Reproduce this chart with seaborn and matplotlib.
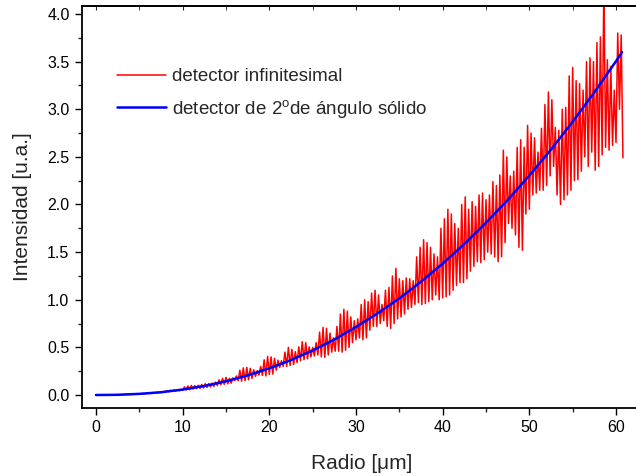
import numpy as np
import pandas as pd
import matplotlib
matplotlib.use("Agg")
import matplotlib.pyplot as plt
from matplotlib.ticker import MultipleLocator
import seaborn as sns

# ---------------- data ----------------
# smooth curve: detector with 2 degree solid angle
radio_blue = [0, 2.5, 5, 7.5, 10, 12.5, 15, 17.5, 20, 22.5, 25, 27.5, 30,
              32.5, 35, 37.5, 40, 42.5, 45, 47.5, 50, 52.5, 55, 57.5, 60, 60.7]
inten_blue = [0.000, 0.002, 0.012, 0.029, 0.057, 0.095, 0.144, 0.206, 0.280,
              0.367, 0.468, 0.582, 0.715, 0.858, 1.014, 1.189, 1.379, 1.585,
              1.808, 2.047, 2.304, 2.577, 2.869, 3.178, 3.504, 3.600]

# oscillating curve: infinitesimal detector, sampled every 0.2 um from 0 to 60.8
radio_red_start = 0.0
radio_red_step = 0.2
inten_red = [
    0.000, 0.001, 0.000, 0.001, 0.000, 0.001, 0.001, 0.002, 0.001, 0.002,
    0.002, 0.003, 0.002, 0.004, 0.003, 0.005, 0.004, 0.006, 0.005, 0.007,
    0.006, 0.009, 0.007, 0.011, 0.009, 0.013, 0.010, 0.015, 0.012, 0.018,
    0.014, 0.021, 0.016, 0.024, 0.019, 0.028, 0.022, 0.032, 0.025, 0.036,
    0.032, 0.046, 0.035, 0.050, 0.038, 0.053, 0.041, 0.056, 0.044, 0.058,
    0.048, 0.085, 0.052, 0.095, 0.056, 0.100, 0.062, 0.098, 0.066, 0.102,
    0.070, 0.110, 0.074, 0.118, 0.080, 0.120, 0.085, 0.125, 0.090, 0.135,
    0.100, 0.160, 0.108, 0.175, 0.112, 0.185, 0.118, 0.175, 0.125, 0.180,
    0.150, 0.200, 0.150, 0.260, 0.145, 0.285, 0.150, 0.290, 0.160, 0.280,
    0.175, 0.265, 0.195, 0.255, 0.210, 0.300, 0.205, 0.370, 0.200, 0.405,
    0.215, 0.400, 0.220, 0.385, 0.260, 0.365, 0.290, 0.360, 0.300, 0.450,
    0.300, 0.500, 0.310, 0.480, 0.320, 0.455, 0.340, 0.505, 0.360, 0.560,
    0.370, 0.550, 0.380, 0.505, 0.400, 0.500, 0.410, 0.550, 0.420, 0.660,
    0.400, 0.710, 0.395, 0.700, 0.420, 0.650, 0.450, 0.600, 0.460, 0.720,
    0.460, 0.850, 0.450, 0.900, 0.470, 0.880, 0.500, 0.820, 0.550, 0.780,
    0.580, 0.800, 0.600, 0.950, 0.580, 1.000, 0.600, 0.980, 0.680, 1.070,
    0.720, 1.100, 0.720, 1.050, 0.750, 0.950, 0.780, 1.100, 0.720, 1.130,
    0.700, 1.250, 0.750, 1.330, 0.800, 1.220, 0.820, 1.200, 0.850, 1.230,
    0.900, 1.220, 0.920, 1.200, 0.950, 1.450, 0.970, 1.550, 0.950, 1.630,
    0.960, 1.600, 0.980, 1.550, 1.000, 1.480, 1.050, 1.450, 1.000, 1.750,
    1.020, 1.850, 1.030, 1.950, 1.050, 1.900, 1.100, 1.800, 1.150, 1.750,
    1.180, 2.000, 1.180, 2.080, 1.220, 1.950, 1.300, 2.030, 1.350, 1.980,
    1.400, 2.100, 1.390, 2.120, 1.420, 2.050, 1.500, 2.100, 1.480, 2.240,
    1.450, 2.200, 1.400, 2.310, 1.450, 2.570, 1.600, 2.500, 1.800, 2.300,
    1.750, 2.350, 1.680, 2.600, 1.550, 2.680, 1.520, 2.600, 1.900, 2.830,
    1.950, 2.750, 2.100, 2.700, 2.120, 2.550, 2.150, 2.800, 2.150, 3.050,
    2.200, 3.180, 2.300, 3.100, 2.400, 2.810, 2.100, 2.780, 2.000, 3.000,
    2.050, 3.020, 2.100, 3.350, 2.150, 3.440, 2.250, 3.300, 2.260, 3.270,
    2.350, 3.200, 2.500, 3.500, 2.400, 3.540, 2.550, 3.500, 2.360, 3.700,
    2.400, 3.760, 2.520, 4.300, 2.600, 3.520, 2.570, 3.450, 2.620, 3.200,
    2.650, 3.800, 3.000, 3.780, 2.490,
]
radio_red = np.round(radio_red_start + radio_red_step * np.arange(len(inten_red)), 2)

label_red = "detector infinitesimal"
label_blue = "detector de 2$^{o}$de ángulo sólido"
xlabel = "Radio [μm]"
ylabel = "Intensidad [u.a.]"
x_ticks = [0, 10, 20, 30, 40, 50, 60]
y_ticks = [0.0, 0.5, 1.0, 1.5, 2.0, 2.5, 3.0, 3.5, 4.0]

# ---------------- style ----------------
sns.set_style("ticks")
plt.rcParams["font.family"] = ["Liberation Sans", "DejaVu Sans"]
plt.rcParams["mathtext.default"] = "regular"

df_red = pd.DataFrame({"x": radio_red, "y": inten_red})
df_blue = pd.DataFrame({"x": radio_blue, "y": inten_blue})

fig = plt.figure(figsize=(6.36, 4.76), dpi=100)
W, H = 636, 476
ax_l, ax_b, ax_t, ax_r = 82, 408, 6, 642
ax = fig.add_axes([ax_l / W, (H - ax_b) / H, (ax_r - ax_l) / W, (ax_b - ax_t) / H])

sns.lineplot(data=df_red, x="x", y="y", ax=ax, color="#FF0000", lw=1.1,
             sort=False, estimator=None, label=label_red)
sns.lineplot(data=df_blue, x="x", y="y", ax=ax, color="#0000FF", lw=1.8,
             sort=False, estimator=None, label=label_blue)

ax.set_xlim(-1.615, 63.0)
ax.set_ylim(-0.1365, 4.084)
ax.set_xticks(x_ticks)
ax.set_yticks(y_ticks)
ax.set_xticklabels([str(v) for v in x_ticks])
ax.set_yticklabels([f"{v:.1f}" for v in y_ticks])
ax.xaxis.set_minor_locator(MultipleLocator(5))
ax.yaxis.set_minor_locator(MultipleLocator(0.25))
ax.tick_params(which="major", direction="out", length=5, width=1.0,
               labelsize=11.5, colors="black", pad=4)
ax.tick_params(which="minor", direction="out", length=3, width=1.0)

for side in ["left", "bottom", "top"]:
    ax.spines[side].set_visible(True)
    ax.spines[side].set_linewidth(1.3)
    ax.spines[side].set_color("black")
ax.spines["right"].set_visible(False)

sec = ax.secondary_xaxis("top")
sec.set_xticks(x_ticks)
sec.xaxis.set_minor_locator(MultipleLocator(5))
sec.tick_params(which="both", direction="in", length=3, labeltop=False)
sec.spines["top"].set_linewidth(1.3)

ax.set_xlabel(xlabel, fontsize=15, labelpad=13)
ax.set_ylabel(ylabel, fontsize=15, labelpad=11)

leg = ax.legend(loc="upper left", bbox_to_anchor=(0.062, 0.845), frameon=False,
                fontsize=13.5, handlelength=2.65, handletextpad=0.3,
                labelspacing=0.65, borderpad=0, borderaxespad=0)

fig.savefig("out.png", dpi=100)
